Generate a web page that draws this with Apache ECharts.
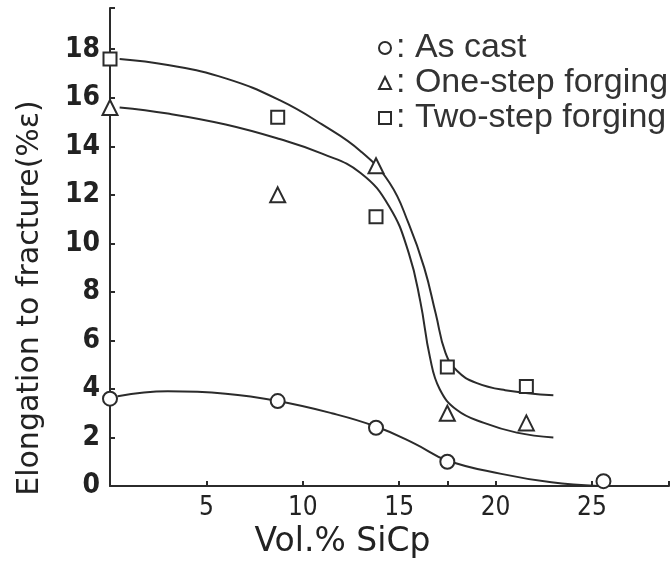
<!DOCTYPE html>
<html>
<head>
<meta charset="utf-8">
<script src="https://cdn.jsdelivr.net/npm/echarts@6/dist/echarts.min.js"></script>
<style>
  html, body { margin: 0; padding: 0; background: #fff; }
  #chart { width: 672px; height: 572px; }
</style>
</head>
<body>
<div id="chart"></div>
<script>
// measured points: vol.% SiCp -> elongation to fracture (%)
var castX = [0, 8.7, 13.8, 17.5, 25.6];
var castY = [3.6, 3.5, 2.4, 1.0, 0.2];
var oneX = [0, 8.7, 13.8, 17.5, 21.6];
var oneY = [15.6, 12.0, 13.2, 3.0, 2.6];
var twoX = [0, 8.7, 13.8, 17.5, 21.6];
var twoY = [17.6, 15.2, 11.1, 4.9, 4.1];

// hand drawn trend curves
var castCurveX = [0.4, 3.0, 6.0, 8.7, 11.5, 13.8, 15.8, 17.5, 20.3, 22.9, 25.3];
var castCurveY = [3.7, 3.9, 3.8, 3.5, 3.0, 2.45, 1.75, 1.05, 0.5, 0.15, 0.0];
var oneCurveX = [0.5, 3.0, 6.0, 8.8, 11.0, 13.0, 14.5, 15.5, 16.1, 16.6, 17.1, 18.0, 19.4, 21.1, 23.0];
var oneCurveY = [15.6, 15.35, 14.9, 14.3, 13.7, 12.9, 11.5, 9.6, 7.6, 5.3, 4.0, 3.13, 2.6, 2.2, 2.0];
var twoCurveX = [0.5, 3.0, 6.0, 8.8, 11.0, 13.0, 14.5, 15.5, 16.3, 16.9, 17.4, 18.0, 19.0, 20.5, 23.0];
var twoCurveY = [17.6, 17.35, 16.8, 15.9, 14.9, 13.8, 12.5, 10.8, 9.0, 7.1, 5.5, 4.75, 4.25, 3.95, 3.74];

var xTicks = [5, 10, 15, 20, 25];
var yTicks = [0, 2, 4, 6, 8, 10, 12, 14, 16, 18];

function zip(xs, ys) {
  return xs.map(function (x, i) { return [x, ys[i]]; });
}

var ink = '#2b2b2b';
var numFont = '"DejaVu Sans Condensed", "DejaVu Sans", sans-serif';
var chart = echarts.init(document.getElementById('chart'), null, { renderer: 'canvas' });

function curve(name, xs, ys) {
  return {
    name: name, type: 'line', data: zip(xs, ys), smooth: 0.45,
    symbol: 'none', lineStyle: { color: ink, width: 2 }, silent: true, z: 2
  };
}
function marks(name, sym, size, xs, ys) {
  return {
    name: name, type: 'scatter', data: zip(xs, ys), symbol: sym, symbolSize: size,
    itemStyle: { color: ink, borderColor: ink, borderWidth: 1.8, opacity: 1 }, z: 3
  };
}

chart.setOption({
  animation: false,
  backgroundColor: '#fff',
  grid: { left: 110, right: 0, top: 8, bottom: 86 },
  legend: {
    orient: 'vertical', left: 373, top: 26, itemGap: 1,
    itemWidth: 12, itemHeight: 12,
    data: ['As cast', 'One-step forging', 'Two-step forging'],
    formatter: function (n) { return ': ' + n; },
    textStyle: { fontFamily: 'Liberation Sans', fontSize: 34, lineHeight: 34, color: '#333' }
  },
  xAxis: [{
    type: 'value', min: 0, max: 29, interval: 5,
    axisLine: { lineStyle: { color: ink, width: 2 } },
    axisTick: { inside: true, length: 5, lineStyle: { color: ink, width: 2 } },
    splitLine: { show: false },
    axisLabel: {
      margin: 9, color: '#222', fontFamily: numFont, fontSize: 26,
      formatter: function (v) { return xTicks.indexOf(v) >= 0 ? String(v) : ''; }
    },
    name: 'Vol.% SiCp', nameLocation: 'middle', nameGap: 34,
    nameTextStyle: { fontFamily: 'DejaVu Sans', fontSize: 33, color: '#222', padding: [0, 94, 0, 0] }
  }, {
    // the single unlabeled tick under the 17.5 % points
    type: 'value', min: 0, max: 29, interval: 17.5, position: 'bottom',
    axisLine: { show: false }, axisLabel: { show: false }, splitLine: { show: false },
    axisTick: { inside: true, length: 5, lineStyle: { color: ink, width: 2 } }
  }],
  yAxis: {
    type: 'value', min: 0, max: 19.7, interval: 2,
    axisLine: { show: true, lineStyle: { color: ink, width: 2 } },
    axisTick: { show: true, inside: true, length: 5, lineStyle: { color: ink, width: 2 } },
    splitLine: { show: false },
    axisLabel: {
      margin: 10, color: '#222', fontFamily: numFont, fontWeight: 'bold', fontSize: 28,
      formatter: function (v) { return yTicks.indexOf(v) >= 0 ? String(v) : ''; }
    },
    name: 'Elongation to fracture(%ε)', nameLocation: 'middle', nameGap: 65,
    nameTextStyle: { fontFamily: 'DejaVu Sans', fontSize: 30, color: '#222', padding: [0, 102, 0, 0] }
  },
  series: [
    curve('cast curve', castCurveX, castCurveY),
    curve('one-step curve', oneCurveX, oneCurveY),
    curve('two-step curve', twoCurveX, twoCurveY),
    marks('As cast', 'emptyCircle', 14, castX, castY),
    marks('One-step forging', 'emptyTriangle', 15, oneX, oneY),
    marks('Two-step forging', 'emptyRect', 13, twoX, twoY)
  ]
});
</script>
</body>
</html>
